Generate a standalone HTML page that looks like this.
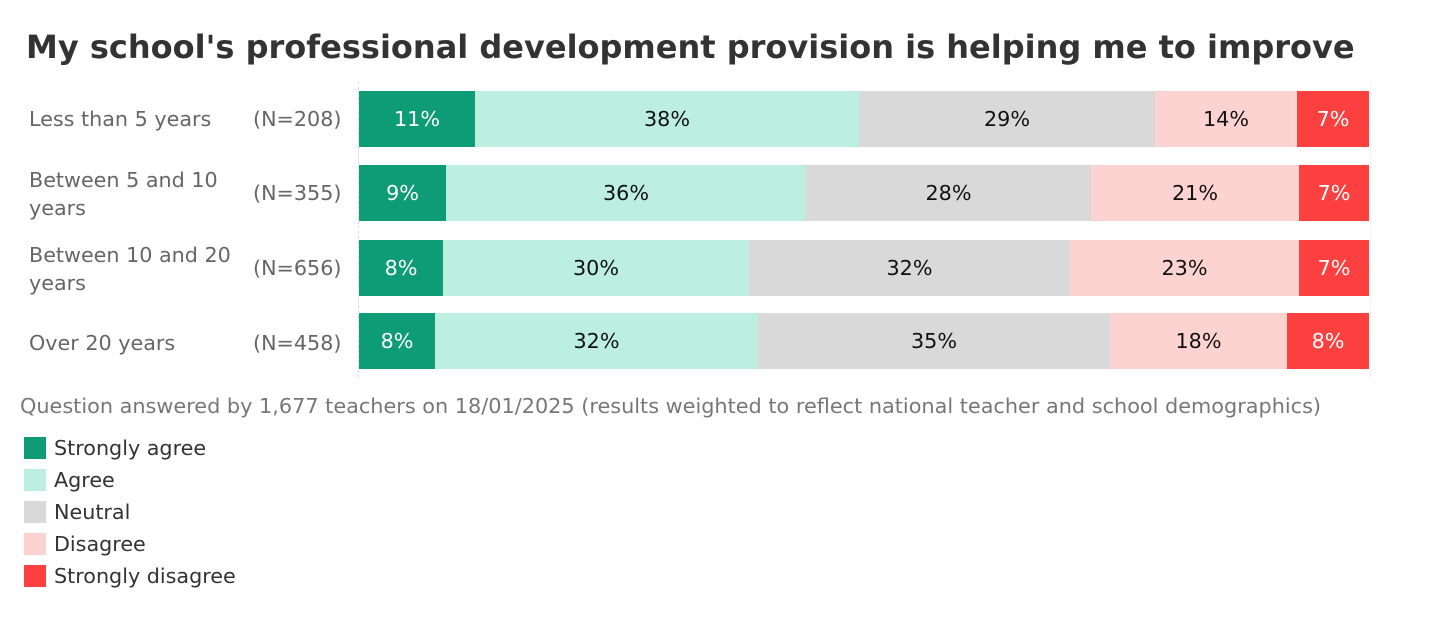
<!DOCTYPE html>
<html><head><meta charset="utf-8"><style>
body{margin:0;width:1440px;height:640px;background:#fff;font-family:"DejaVu Sans","Liberation Sans",sans-serif;position:relative;overflow:hidden}
.a{position:absolute;white-space:nowrap}
.t{left:26px;top:28px;font-size:32px;font-weight:bold;color:#333}
.lab{left:29px;font-size:20.7px;color:#666;line-height:28px}
.n{left:253px;font-size:20.7px;color:#666}
.s{position:absolute;height:56px;display:flex;align-items:center;justify-content:center;font-size:20.7px;color:#111}
.w{color:#fff}
.lg{left:24px;font-size:20.7px;color:#333}
.sw{position:absolute;left:24px;width:22px;height:22px}
</style></head><body>
<div class="a t">My school's professional development provision is helping me to improve</div>
<div style="position:absolute;left:358px;top:82px;height:296px;border-left:1px dashed #ddd"></div>
<div style="position:absolute;left:1370px;top:82px;height:296px;border-left:1px dashed #eee"></div>

<div class="a lab" style="top:105px">Less than 5 years</div><div class="a n" style="top:107px">(N=208)</div>
<div class="a lab" style="top:166px">Between 5 and 10<br>years</div><div class="a n" style="top:181px">(N=355)</div>
<div class="a lab" style="top:241px">Between 10 and 20<br>years</div><div class="a n" style="top:256px">(N=656)</div>
<div class="a lab" style="top:329px">Over 20 years</div><div class="a n" style="top:331px">(N=458)</div>

<div class="s w" style="top:91px;left:359px;width:116px;background:#0e9c77">11%</div>
<div class="s" style="top:91px;left:475px;width:384px;background:#bcefe0">38%</div>
<div class="s" style="top:91px;left:859px;width:296px;background:#d9d9d9">29%</div>
<div class="s" style="top:91px;left:1155px;width:142px;background:#fcd3d0">14%</div>
<div class="s w" style="top:91px;left:1297px;width:72px;background:#fc4040">7%</div>

<div class="s w" style="top:165px;left:359px;width:87px;background:#0e9c77">9%</div>
<div class="s" style="top:165px;left:446px;width:360px;background:#bcefe0">36%</div>
<div class="s" style="top:165px;left:806px;width:285px;background:#d9d9d9">28%</div>
<div class="s" style="top:165px;left:1091px;width:208px;background:#fcd3d0">21%</div>
<div class="s w" style="top:165px;left:1299px;width:70px;background:#fc4040">7%</div>

<div class="s w" style="top:240px;left:359px;width:84px;background:#0e9c77">8%</div>
<div class="s" style="top:240px;left:443px;width:306px;background:#bcefe0">30%</div>
<div class="s" style="top:240px;left:749px;width:321px;background:#d9d9d9">32%</div>
<div class="s" style="top:240px;left:1070px;width:229px;background:#fcd3d0">23%</div>
<div class="s w" style="top:240px;left:1299px;width:70px;background:#fc4040">7%</div>

<div class="s w" style="top:313px;left:359px;width:76px;background:#0e9c77">8%</div>
<div class="s" style="top:313px;left:435px;width:323px;background:#bcefe0">32%</div>
<div class="s" style="top:313px;left:758px;width:352px;background:#d9d9d9">35%</div>
<div class="s" style="top:313px;left:1110px;width:177px;background:#fcd3d0">18%</div>
<div class="s w" style="top:313px;left:1287px;width:82px;background:#fc4040">8%</div>

<div class="a" style="left:20px;top:394px;font-size:20.8px;color:#777">Question answered by 1,677 teachers on 18/01/2025 (results weighted to reflect national teacher and school demographics)</div>

<div class="sw" style="top:437px;background:#0e9c77"></div><div class="a lg" style="left:54px;top:436px">Strongly agree</div>
<div class="sw" style="top:469px;background:#bcefe0"></div><div class="a lg" style="left:54px;top:468px">Agree</div>
<div class="sw" style="top:501px;background:#d9d9d9"></div><div class="a lg" style="left:54px;top:500px">Neutral</div>
<div class="sw" style="top:533px;background:#fcd3d0"></div><div class="a lg" style="left:54px;top:532px">Disagree</div>
<div class="sw" style="top:565px;background:#fc4040"></div><div class="a lg" style="left:54px;top:564px">Strongly disagree</div>
</body></html>
